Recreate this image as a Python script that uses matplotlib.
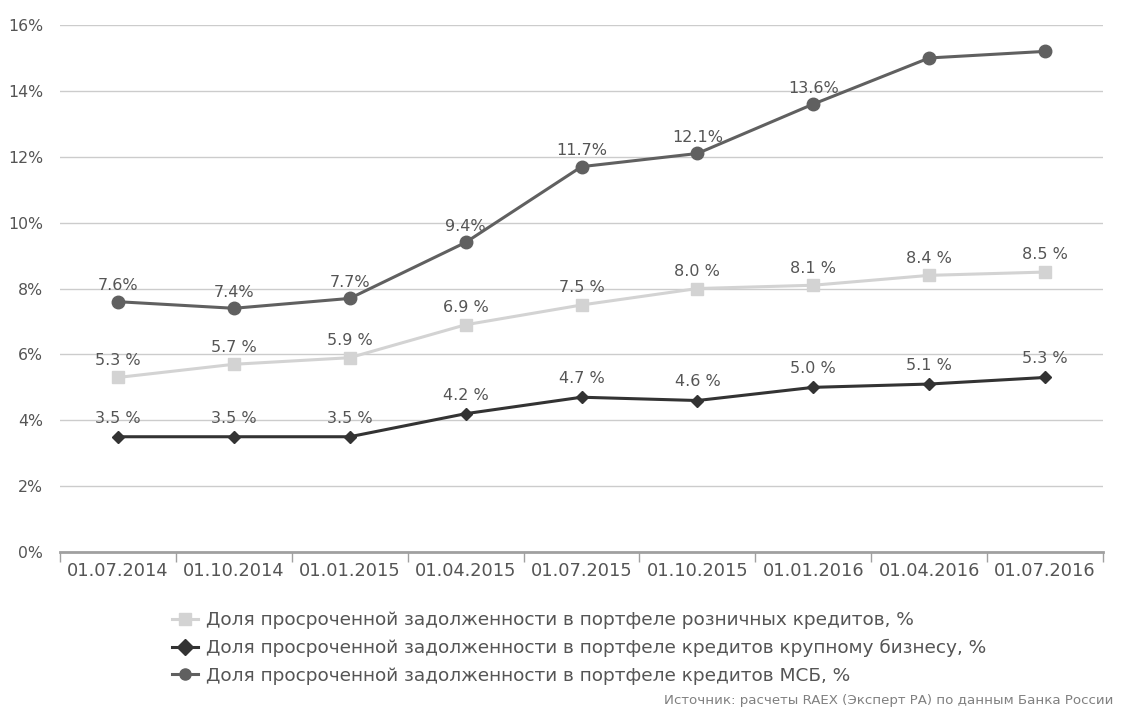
import matplotlib
matplotlib.use("Agg")
import matplotlib.pyplot as plt
import numpy as np

dates = ["01.07.2014", "01.10.2014", "01.01.2015", "01.04.2015", "01.07.2015",
         "01.10.2015", "01.01.2016", "01.04.2016", "01.07.2016"]
retail = [5.3, 5.7, 5.9, 6.9, 7.5, 8.0, 8.1, 8.4, 8.5]
corporate = [3.5, 3.5, 3.5, 4.2, 4.7, 4.6, 5.0, 5.1, 5.3]
sme = [7.6, 7.4, 7.7, 9.4, 11.7, 12.1, 13.6, 15.0, 15.2]
sme_labelled = 7  # last two SME points carry no label

names = ["Доля просроченной задолженности в портфеле розничных кредитов, %",
         "Доля просроченной задолженности в портфеле кредитов крупному бизнесу, %",
         "Доля просроченной задолженности в портфеле кредитов МСБ, %"]
source = "Источник: расчеты RAEX (Эксперт РА) по данным Банка России"

plt.rcParams['font.family'] = ['DejaVu Sans']
text_c = "#555555"

fig = plt.figure(figsize=(11.26, 7.09), dpi=100)
ax = fig.add_axes([0.0533, 0.2214, 0.9263, 0.7433])
x = np.arange(len(dates))

ax.plot(x, retail, color="#d3d3d3", lw=2.2, marker="s", ms=9, label=names[0], zorder=3)
ax.plot(x, corporate, color="#333333", lw=2.2, marker="D", ms=6, label=names[1], zorder=4)
ax.plot(x, sme, color="#606060", lw=2.2, marker="o", ms=9, label=names[2], zorder=5)

for i in x:
    ax.annotate(f"{retail[i]:.1f} %", (i, retail[i]), xytext=(0, 7), textcoords="offset points",
                ha="center", va="bottom", fontsize=11.5, color=text_c)
    ax.annotate(f"{corporate[i]:.1f} %", (i, corporate[i]), xytext=(0, 8), textcoords="offset points",
                ha="center", va="bottom", fontsize=11.5, color=text_c)
for i in x[:sme_labelled]:
    ax.annotate(f"{sme[i]:.1f}%", (i, sme[i]), xytext=(0, 6), textcoords="offset points",
                ha="center", va="bottom", fontsize=11.5, color=text_c)

ax.set_xlim(-0.5, len(dates) - 0.5)
ax.set_ylim(0, 16)
ax.set_yticks(np.arange(0, 17, 2))
ax.set_yticklabels([f"{v}%" for v in range(0, 17, 2)])
ax.set_xticks(x)
ax.set_xticklabels(dates)
ax.set_xticks(np.arange(-0.5, len(dates)), minor=True)
ax.tick_params(axis="x", which="major", length=0, pad=7, labelsize=12.8, labelcolor=text_c)
ax.tick_params(axis="x", which="minor", length=7, color="#a0a0a0", width=1)
ax.tick_params(axis="y", length=0, pad=12, labelsize=11.3, labelcolor=text_c)

ax.grid(axis="y", color="#cccccc", lw=1)
ax.set_axisbelow(True)
for s in ["top", "right", "left"]:
    ax.spines[s].set_visible(False)
ax.spines["bottom"].set_color("#a0a0a0")
ax.spines["bottom"].set_linewidth(2)
ax.spines["bottom"].set_zorder(2)

leg = fig.legend(loc="upper left", bbox_to_anchor=(0.1445, 0.151), frameon=False,
                 fontsize=13.3, labelcolor=text_c, handlelength=1.4, handletextpad=0.45,
                 labelspacing=0.52, borderpad=0)
for h in leg.legend_handles:
    h.set_markersize(8)

fig.text(0.989, 0.003, source, ha="right", va="bottom", fontsize=9.6, color="#808080")

fig.savefig("out.png", dpi=100)
